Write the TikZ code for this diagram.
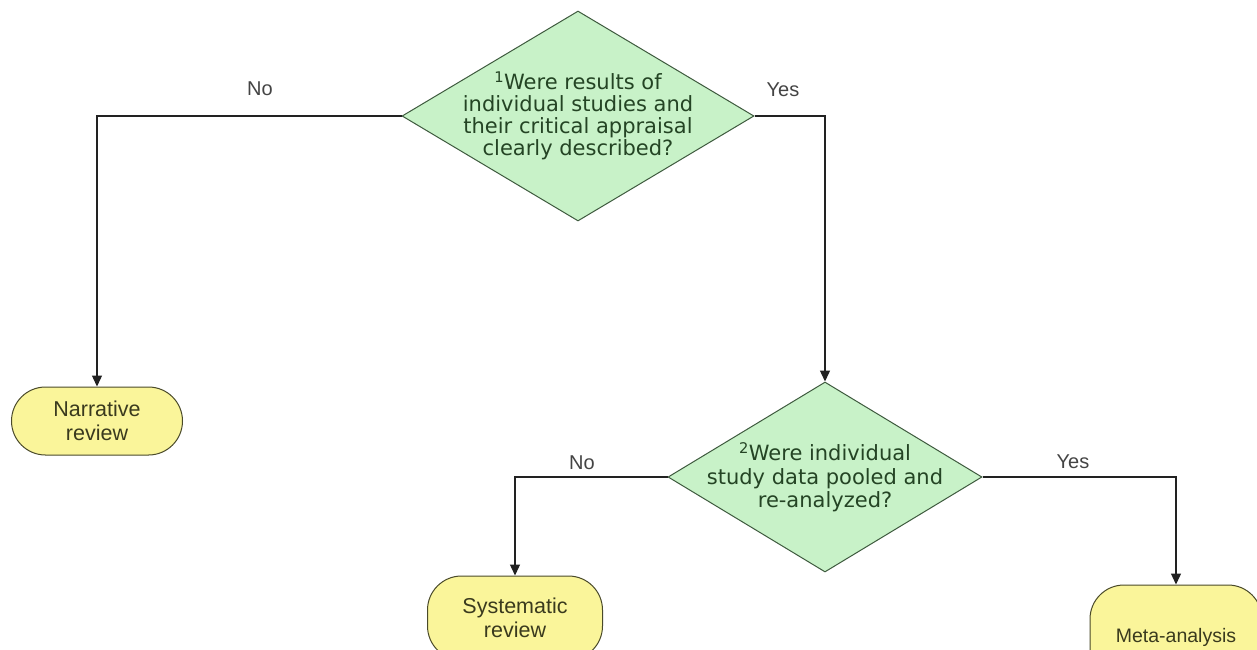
\documentclass[tikz,border=0pt]{standalone}
\usepackage{fontspec}
\setmainfont{Liberation Sans}
\newfontfamily\verdanalike{DejaVu Sans}
\usetikzlibrary{shapes.geometric,arrows.meta}
\definecolor{decfill}{HTML}{C8F2C8}
\definecolor{decdraw}{HTML}{3E5A3E}
\definecolor{dectxt}{HTML}{244424}
\definecolor{termfill}{HTML}{FAF59A}
\definecolor{termdraw}{HTML}{4A4A2A}
\definecolor{termtxt}{HTML}{3A3A1E}
\definecolor{linecol}{HTML}{222222}
\definecolor{labcol}{HTML}{444444}
\tikzset{
  decbox/.style={diamond, draw=decdraw, fill=decfill, line width=1pt, inner sep=0pt, aspect=1.6},
  dectext/.style={text=dectxt, font=\verdanalike\fontsize{21}{22}\selectfont, align=center, inner sep=0pt},
  termbox/.style={rectangle, rounded corners=34pt, draw=termdraw, fill=termfill, line width=1pt, text=termtxt, font=\fontsize{21.5}{24}\selectfont, align=center, inner sep=0pt},
  arr/.style={draw=linecol, line width=1.3pt, -{Triangle[length=11pt,width=10pt]}},
  lab/.style={text=labcol, font=\fontsize{20}{22}\selectfont, inner sep=0pt}
}
\begin{document}
\begin{tikzpicture}[x=1pt,y=-1pt]
\clip (0,0) rectangle (1257,649);
\fill[white] (0,0) rectangle (1257,649);
\node[decbox, minimum width=352pt, minimum height=210pt,
  label={[dectext]center:{\textsuperscript{1}Were results of\\individual studies and\\their critical appraisal\\clearly described?}}] (d1) at (578,116) {};
\node[decbox, minimum width=314pt, minimum height=190pt,
  label={[dectext, font=\verdanalike\fontsize{21}{23.5}\selectfont]center:{\textsuperscript{2}Were individual\\study data pooled and\\re-analyzed?}}] (d2) at (825,477) {};
\node[termbox, minimum width=171pt, minimum height=68pt] (nr) at (97,421) {Narrative\\review};
\node[termbox, minimum width=175pt, minimum height=84pt] (sr) at (515,618) {Systematic\\review};
\node[termbox, font=\fontsize{19.5}{24}\selectfont, minimum width=172pt, minimum height=104pt] (ma) at (1176,637) {Meta-analysis};
\draw[arr] (d1.west) -| (nr.north);
\draw[arr] (d1.east) -| (d2.north);
\draw[arr] (d2.west) -| (sr.north);
\draw[arr] (d2.east) -| (ma.north);
\node[lab] (no1) at (260,89) {No};
\node[lab] (yes1) at (783,90) {Yes};
\node[lab] (no2) at (582,463) {No};
\node[lab] (yes2) at (1073,462) {Yes};
\end{tikzpicture}
\end{document}
